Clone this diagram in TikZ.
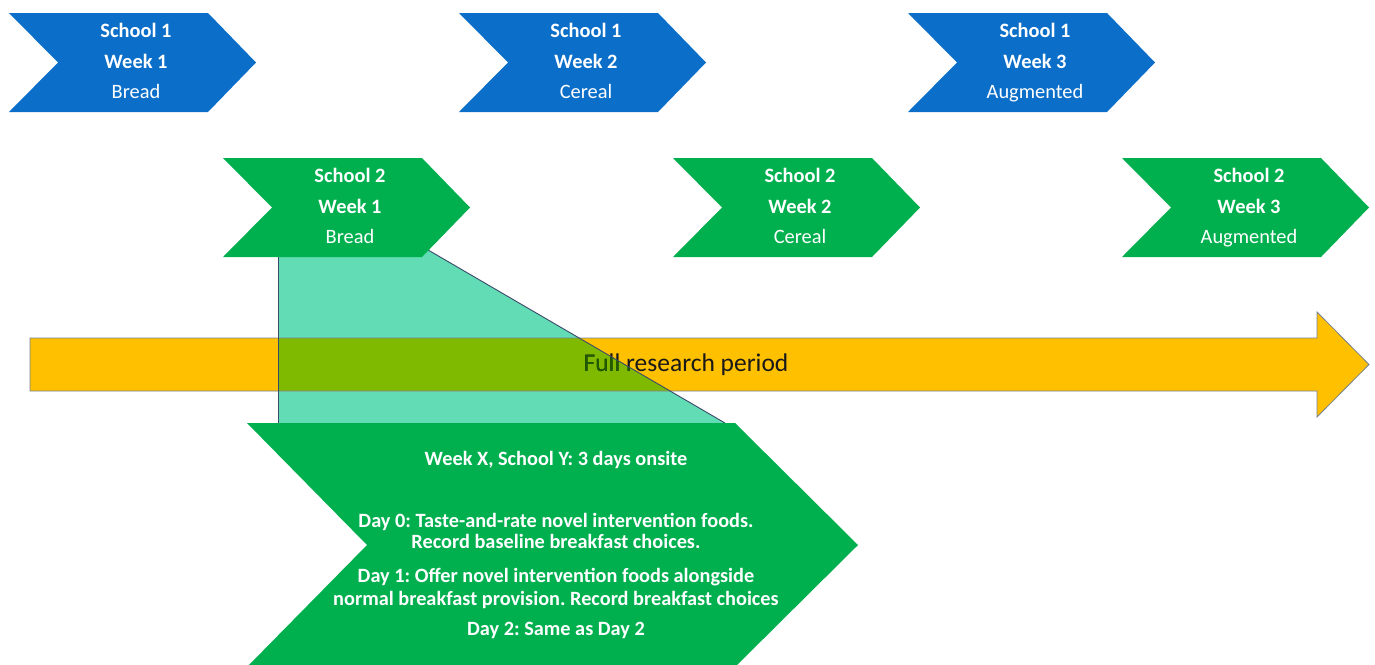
\documentclass[tikz,border=0pt]{standalone}
\usepackage{fontspec}
\setmainfont{Carlito}
\frenchspacing
\definecolor{cblue}{HTML}{0B6FC9}
\definecolor{cgreen}{HTML}{00B04F}
\definecolor{cteal}{HTML}{61DCB4}
\definecolor{corange}{HTML}{FFC000}
\definecolor{colive}{HTML}{7FBA00}
\definecolor{cline}{HTML}{3B4A6B}
\definecolor{cdark}{HTML}{1F5C00}
\tikzset{
  chevblue/.style={fill=cblue, draw=none},
  chevgreen/.style={fill=cgreen, draw=none},
  lblb/.style={anchor=base, text=white, inner sep=0pt, font=\fontsize{20.4}{20.4}\selectfont\bfseries},
  lblr/.style={anchor=base, text=white, inner sep=0pt, font=\fontsize{20.4}{20.4}\selectfont},
  biglbl/.style={anchor=base, text=white, inner sep=0pt, font=\fontsize{20.3}{20.3}\selectfont\bfseries},
  arrowlbl/.style={anchor=base, inner sep=0pt, font=\fontsize{25.5}{25.5}\selectfont},
  edgeline/.style={draw=cline, line width=0.9pt},
}
\newcommand\chevshape[7]{%
  \begin{scope}[shift={(#2,#3)}]
    \path[#4] (0,0) -- (199,0) -- (247,49.5) -- (199,99) -- (0,99) -- (49,49.5) -- cycle;
    \node[lblb] (#1a) at (127,24) {#5};
    \node[lblb] (#1b) at (127,55) {#6};
    \node[lblr] (#1c) at (127,85) {#7};
  \end{scope}}
\begin{document}
\begin{tikzpicture}[x=1pt,y=-1pt]
  \useasboundingbox (0,0) rectangle (1375,664);
  \clip (0,0) rectangle (1375,664);
  % teal funnel
  \path[fill=cteal] (278,240) -- (411,240) -- (725,423) -- (278,423) -- cycle;
  % orange arrow
  \path[fill=corange] (30,338) -- (1317,338) -- (1317,312) -- (1369,364.5) -- (1317,417) -- (1317,391) -- (30,391) -- cycle;
  \begin{scope}
    \clip (278,240) -- (411,240) -- (725,423) -- (278,423) -- cycle;
    \fill[colive] (30,338) rectangle (1317,391);
  \end{scope}
  \draw[draw=cline!70, line width=0.8pt] (30,338) -- (1317,338) -- (1317,312) -- (1369,364.5) -- (1317,417) -- (1317,391) -- (30,391) -- cycle;
  \node[arrowlbl, text=black!90] (period) at (686,371) {Full research period};
  \begin{scope}
    \clip (278,240) -- (411,240) -- (725,423) -- (278,423) -- cycle;
    \node[arrowlbl, text=cdark] at (686,371) {Full research period};
  \end{scope}
  \draw[edgeline] (278,240) -- (278,423);
  \draw[edgeline] (411,240) -- (725,423);
  % top row: school 1
  \chevshape{sa}{9}{13}{chevblue}{School 1}{Week 1}{Bread}
  \chevshape{sb}{459}{13}{chevblue}{School 1}{Week 2}{Cereal}
  \chevshape{sc}{908}{13}{chevblue}{School 1}{Week 3}{Augmented}
  % second row: school 2
  \chevshape{ta}{223}{158}{chevgreen}{School 2}{Week 1}{Bread}
  \chevshape{tb}{673}{158}{chevgreen}{School 2}{Week 2}{Cereal}
  \chevshape{tc}{1122}{158}{chevgreen}{School 2}{Week 3}{Augmented}
  % detail chevron
  \path[chevgreen] (247,423) -- (735,423) -- (858,545) -- (735,667) -- (247,667) -- (367,545) -- cycle;
  \node[biglbl] (d0) at (556,465) {Week X, School Y: 3 days onsite};
  \node[biglbl] (d1) at (556,527) {Day 0: Taste-and-rate novel intervention foods.};
  \node[biglbl] (d2) at (556,548) {Record baseline breakfast choices.};
  \node[biglbl] (d3) at (556,582) {Day 1: Offer novel intervention foods alongside};
  \node[biglbl] (d4) at (556,605) {normal breakfast provision. Record breakfast choices};
  \node[biglbl] (d5) at (556,635) {Day 2: Same as Day 2};
\end{tikzpicture}
\end{document}
